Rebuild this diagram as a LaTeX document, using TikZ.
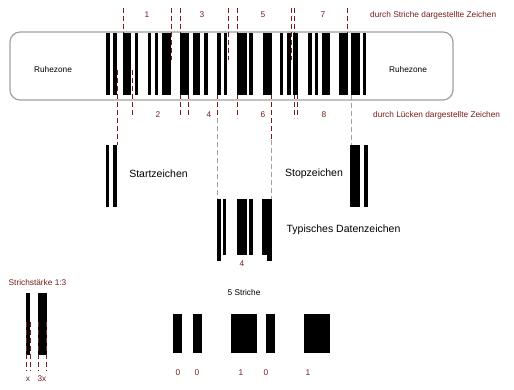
\documentclass[tikz,border=0pt]{standalone}
\usepackage{fontspec}
\setmainfont{Liberation Sans}
\definecolor{dred}{HTML}{7A1A1A}
\definecolor{lgray}{HTML}{A0A0A0}
\begin{document}
\begin{tikzpicture}[x=1pt,y=-1pt,
 barfill/.style={fill=black},
 reddash/.style={draw=dred,line width=0.8pt,dash pattern=on 5pt off 3pt},
 graydash/.style={draw=lgray,line width=0.8pt,dash pattern=on 5pt off 3pt},
 lbl/.style={font=\fontsize{8.3}{10}\selectfont,inner sep=0pt},
 rlbl/.style={lbl,text=dred},
 big/.style={font=\fontsize{10.5}{12}\selectfont,inner sep=0pt}]
\useasboundingbox (0,0) rectangle (514,390);
% quiet zone frame
\node[draw=lgray, line width=1.2pt, rounded corners=10pt, minimum width=443pt, minimum height=68pt, inner sep=0pt] (zone) at (231.5,66) {};
% top dashed lines
\foreach \x in {123,171,180,228,237,291,294,347}
  \draw[reddash] (\x,8) -- (\x,60);
% bottom dashed lines
\foreach \x in {132,180,188,237,294,297}
  \draw[reddash] (\x,70) -- (\x,118);
\draw[reddash] (117,70) -- (117,145);
\draw[reddash] (217,70) -- (217,118);
\draw[graydash] (217,118) -- (217,199);
\draw[reddash] (271,70) -- (271,140);
\draw[graydash] (271,140) -- (271,199);
\draw[graydash] (351,95) -- (351,145);
% main barcode
\foreach \a/\b in {106/110,113/117,123/131,135/138,148/151,155/158,162/171,180/189,193/200,204/208,217/221,224/227,237/247,249/253,263/272,280/283,287/291,293/298,308/312,315/318,322/330,339/348,351/360,363/366}
  \fill[barfill] (\a,33) rectangle (\b,95);
\node[lbl] (rl) at (53,70) {Ruhezone};
\node[lbl] (rr) at (408,70) {Ruhezone};
% top / bottom labels
\foreach \x/\t in {147/1,202/3,263/5,323/7}
  \node[rlbl] at (\x,15) {\t};
\node[rlbl,anchor=west] (strich) at (370,15) {durch Striche dargestellte Zeichen};
\foreach \x/\t in {158/2,209/4,263/6,324/8}
  \node[rlbl] at (\x,115) {\t};
\node[rlbl,anchor=west] (luecke) at (373,115) {durch Lücken dargestellte Zeichen};
% start character
\fill[barfill] (106,145) rectangle (109,207);
\fill[barfill] (113,145) rectangle (117,207);
\node[big] (start) at (158.5,174) {Startzeichen};
% stop character
\fill[barfill] (350,145) rectangle (360,207);
\fill[barfill] (364,145) rectangle (368,207);
\node[big] (stop) at (314,174) {Stopzeichen};
% typical data character
\fill[barfill] (217,199) rectangle (221,261);
\fill[barfill] (223,199) rectangle (226,255);
\fill[barfill] (237,199) rectangle (247,255);
\fill[barfill] (249,199) rectangle (253,255);
\fill[barfill] (262,199) rectangle (272,255);
\fill[barfill] (267,255) rectangle (272,261);
\node[rlbl] (four) at (242,264) {4};
\node[big] (data) at (343.5,230) {Typisches Datenzeichen};
% bar width ratio
\node[rlbl] (ratio) at (37.5,283) {Strichstärke 1:3};
\fill[barfill] (26,293) rectangle (30,355);
\fill[barfill] (38,293) rectangle (47,355);
\foreach \x in {26.5,30,38.5,46.5}
  \draw[reddash] (\x,322) -- (\x,371);
\node[rlbl] (xa) at (28,379) {x};
\node[rlbl] (xb) at (42,379) {3x};
% five bars
\node[lbl] (five) at (244,293) {5 Striche};
\foreach \a/\b in {173/182,193/202,231/257,266/275,304/330}
  \fill[barfill] (\a,314) rectangle (\b,353);
\foreach \x/\t in {178/0,197/0,241/1,266/0,308/1}
  \node[rlbl] at (\x,373) {\t};
\end{tikzpicture}
\end{document}
